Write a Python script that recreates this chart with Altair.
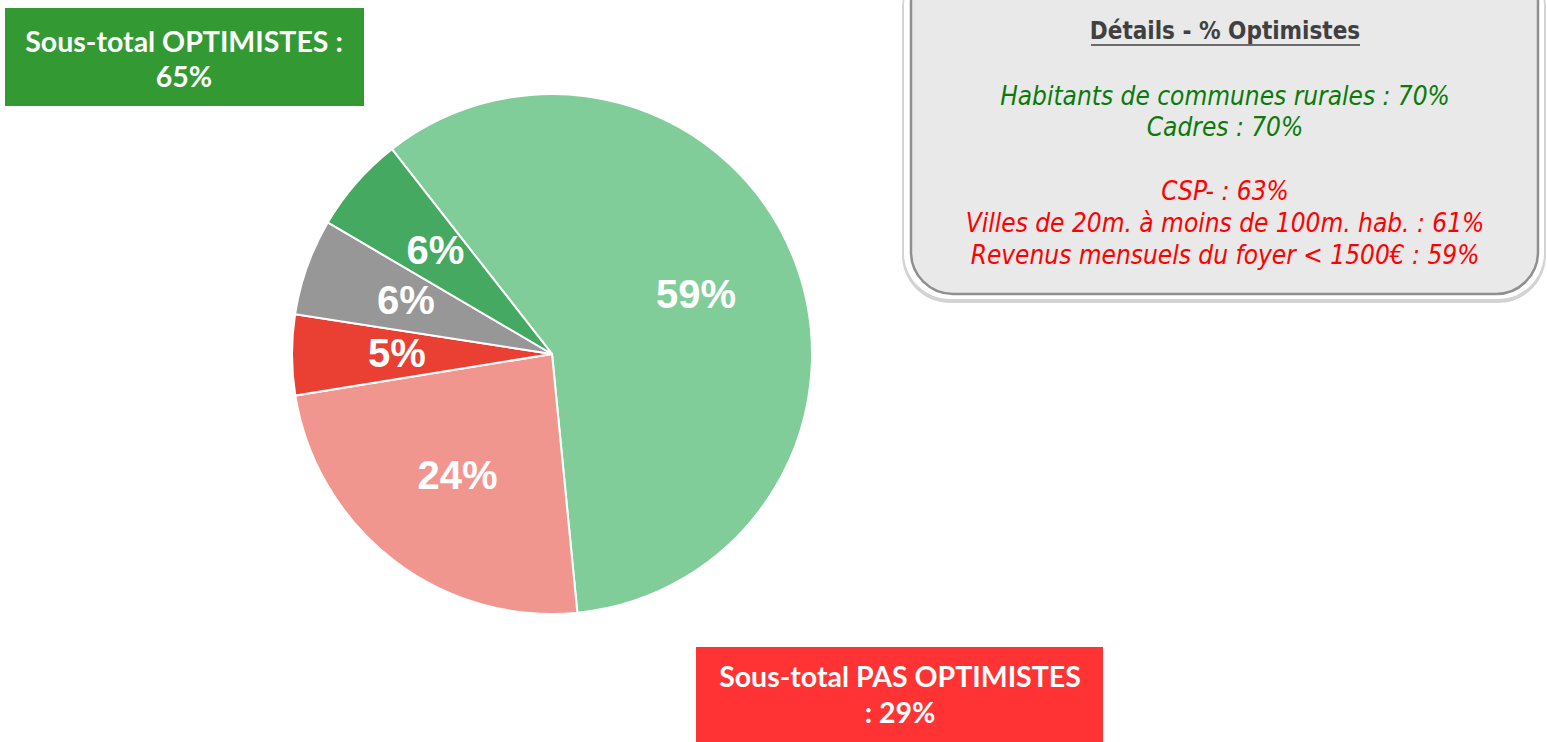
import math
import altair as alt
import pandas as pd

# ---- data ----
slice_names = ["Plutôt optimiste", "Plutôt pas optimiste", "Pas du tout optimiste", "NSP", "Très optimiste"]
slice_values = [59, 24, 5, 6, 6]
slice_labels = ["59%", "24%", "5%", "6%", "6%"]
slice_colors = ["#81CD99", "#F1968F", "#E94033", "#979797", "#45A962"]

opt_box_lines = ["Sous-total OPTIMISTES :", "65%"]
pas_box_lines = ["Sous-total PAS OPTIMISTES", ": 29%"]

details_title = "Détails - % Optimistes"
details_green = ["Habitants de communes rurales : 70%", "Cadres : 70%"]
details_red = ["CSP- : 63%", "Villes de 20m. à moins de 100m. hab. : 61%",
               "Revenus mensuels du foyer < 1500€ : 59%"]

W, H = 1547, 742
CX, CY, R = 552, 354, 260
start = math.radians(322)

pie_df = pd.DataFrame({
    "name": slice_names,
    "value": slice_values,
    "label": slice_labels,
    "idx": list(range(len(slice_values))),
})

theta = alt.Theta("value:Q", stack=True,
                  scale=alt.Scale(domain=[0, sum(slice_values)], range=[start, start + 2 * math.pi]))
base = alt.Chart(pie_df).encode(
    theta=theta,
    order=alt.Order("idx:Q"),
    x=alt.value(CX),
    y=alt.value(CY),
)
pie = base.mark_arc(outerRadius=R, stroke="white", strokeWidth=2).encode(
    color=alt.Color("name:N", scale=alt.Scale(domain=slice_names, range=slice_colors), legend=None)
)
pie_text = base.mark_text(radius=155, font="Liberation Sans", fontWeight="bold", fontSize=40,
                          color="white", align="center", baseline="middle").encode(text="label:N")

one = pd.DataFrame({"a": [0]})

def rect(x1, x2, y1, y2, **kw):
    return alt.Chart(one).mark_rect(**kw).encode(
        x=alt.value(x1), x2=alt.value(x2), y=alt.value(y1), y2=alt.value(y2))

def text(s, x, y, **kw):
    return alt.Chart(one).mark_text(**kw).encode(x=alt.value(x), y=alt.value(y), text=alt.value(s))

layers = [pie, pie_text]

# green box
layers.append(rect(5, 364, 8, 106, color="#339933"))
for i, s in enumerate(opt_box_lines):
    layers.append(text(s, 184, 43 + i * 35, font="Lato", fontWeight="bold", fontSize=28.5,
                       color="white", align="center", baseline="middle"))
# red box
layers.append(rect(696, 1103, 647, 742, color="#FF3333"))
for i, s in enumerate(pas_box_lines):
    layers.append(text(s, 900, 678 + i * 36, font="Lato", fontWeight="bold", fontSize=28.5,
                       color="white", align="center", baseline="middle"))

# details box
layers.append(rect(902, 1546, -40, 303, color="#c8c8c8", cornerRadius=48, opacity=0.8))
layers.append(rect(904, 1544, -40, 299, color="#ffffff", cornerRadius=46))
layers.append(rect(911, 1538, -40, 294, fill="#E9E9E9", stroke="#8f8f8f", strokeWidth=2.5, cornerRadius=42))
layers.append(text(details_title, 1225, 32, font="DejaVu Sans Condensed", fontWeight="bold", fontSize=24,
                   color="#404040", align="center", baseline="middle"))
layers.append(alt.Chart(one).mark_rule(color="#404040", strokeWidth=1.5).encode(
    x=alt.value(1091), x2=alt.value(1360), y=alt.value(45)))
for i, s in enumerate(details_green):
    layers.append(text(s, 1225, 97 + i * 31, font="DejaVu Sans Condensed", fontStyle="italic", fontSize=26,
                       color="#0A7A0A", align="center", baseline="middle"))
for i, s in enumerate(details_red):
    layers.append(text(s, 1225, 192 + i * 32, font="DejaVu Sans Condensed", fontStyle="italic", fontSize=26,
                       color="#FF0000", align="center", baseline="middle"))

chart = alt.layer(*layers).properties(
    width=W, height=H, padding=0, autosize=alt.AutoSizeParams(type="none")
).configure_view(stroke=None)

chart.save("out.html", embed_options={"renderer": "svg", "actions": False})
